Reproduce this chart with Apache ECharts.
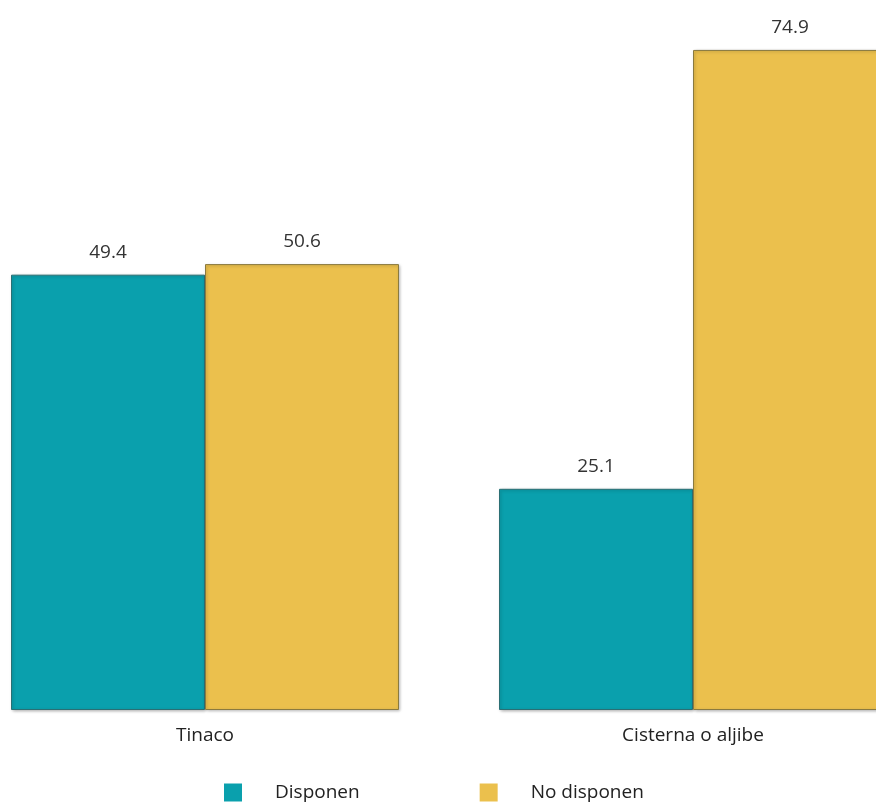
<!DOCTYPE html>
<html>
<head>
<meta charset="utf-8">
<script src="https://cdn.jsdelivr.net/npm/echarts@6/dist/echarts.min.js"></script>
<style>
  html, body { margin: 0; padding: 0; background: #fff; overflow: hidden; }
  /* chart is wider than the window so the plot runs past both edges like the original */
  #main { width: 976px; height: 810px; margin-left: -39px; }
</style>
</head>
<body>
<div id="main"></div>
<script>
var categories = ['Tinaco', 'Cisterna o aljibe'];
var disponen = [49.4, 25.1];
var noDisponen = [50.6, 74.9];

var chart = echarts.init(document.getElementById('main'));

function barStyle(base, dark) {
  return {
    color: base,
    borderColor: dark,
    borderWidth: 1,
    shadowColor: 'rgba(0,0,0,0.25)',
    shadowBlur: 3,
    shadowOffsetX: 1,
    shadowOffsetY: 1
  };
}

var labelStyle = {
  show: true,
  position: 'top',
  distance: 13,
  color: '#333',
  fontSize: 19,
  fontFamily: 'Open Sans',
  formatter: function (p) { return p.value.toFixed(1); }
};

chart.setOption({
  animation: false,
  grid: { left: 0, right: 0, top: 5, bottom: 100 },
  xAxis: {
    type: 'category',
    data: categories,
    axisLine: { show: false },
    axisTick: { show: false },
    axisLabel: { color: '#222', fontSize: 19, fontFamily: 'Open Sans', margin: 16 }
  },
  yAxis: {
    type: 'value',
    min: 0,
    max: 80,
    show: false,
    splitLine: { show: false }
  },
  legend: {
    bottom: 3,
    left: 258,
    itemWidth: 18,
    itemHeight: 18,
    itemGap: 120,
    icon: 'rect',
    itemStyle: { borderWidth: 0, shadowBlur: 0, shadowOffsetX: 0, shadowOffsetY: 0 },
    textStyle: { color: '#222', fontSize: 19, fontFamily: 'Open Sans', padding: [0, 0, 0, 28] },
    data: ['Disponen', 'No disponen']
  },
  series: [
    {
      name: 'Disponen',
      type: 'bar',
      data: disponen,
      barWidth: 194,
      barGap: '0%',
      itemStyle: barStyle('#0aa0ad', '#2b6f74'),
      label: labelStyle
    },
    {
      name: 'No disponen',
      type: 'bar',
      data: noDisponen,
      barWidth: 194,
      barGap: '0%',
      itemStyle: barStyle('#ebc04d', '#8a7a40'),
      label: labelStyle
    }
  ]
});
</script>
</body>
</html>
